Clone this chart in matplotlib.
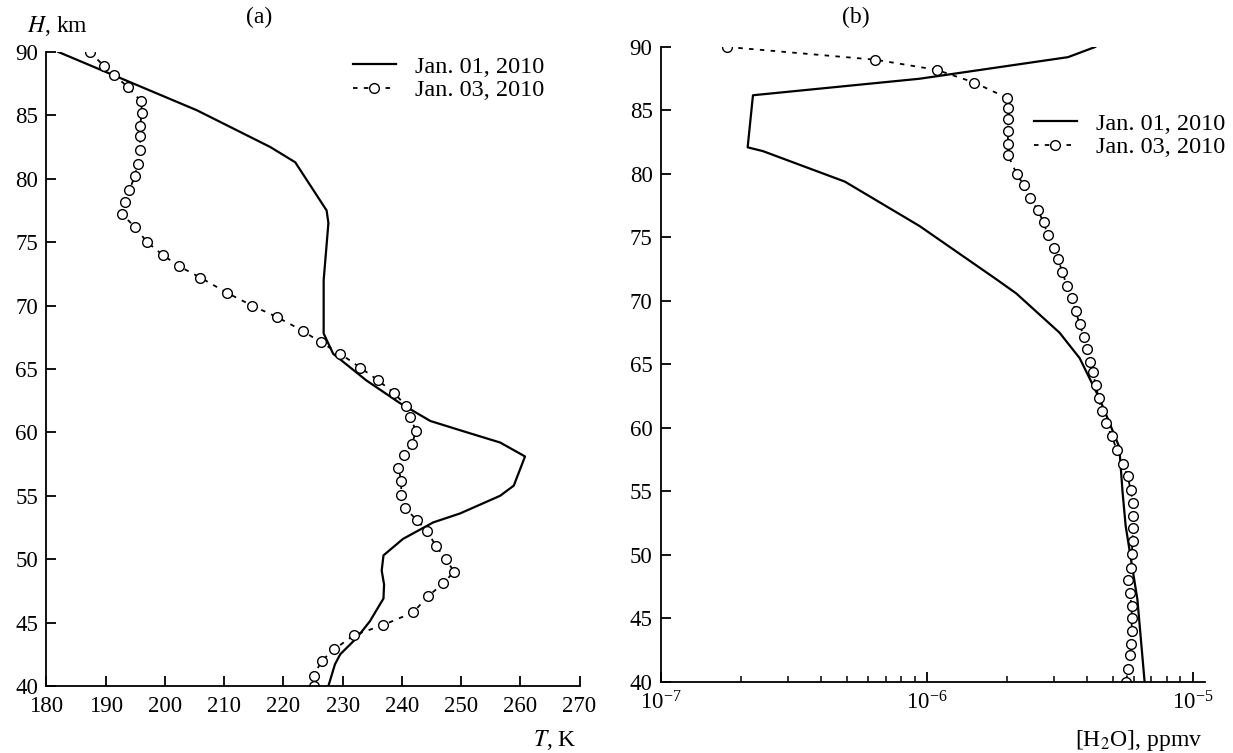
import numpy as np
import matplotlib.pyplot as plt
from matplotlib.ticker import LogLocator, NullFormatter, FixedLocator

plt.rcParams['font.family'] = ['Liberation Serif', 'DejaVu Serif']
plt.rcParams['mathtext.fontset'] = 'stix'

# ---- (a) temperature profiles ----
t1_T = [182.0, 205.4, 217.8, 222.0, 227.3, 227.6, 226.8, 226.8, 228.4, 234.0, 239.7,
        244.8, 251.0, 256.6, 260.8, 258.9, 256.6, 249.8, 245.3, 240.2, 236.9, 236.6,
        237.0, 236.9, 234.6, 232.4, 229.6, 228.7, 227.6]
t1_H = [90.0, 85.4, 82.5, 81.3, 77.5, 76.5, 72.0, 67.8, 66.2, 64.1, 62.3,
        60.9, 60.0, 59.2, 58.1, 55.8, 55.0, 53.6, 52.9, 51.6, 50.3, 49.1,
        48.0, 46.9, 45.1, 43.8, 42.5, 41.7, 40.0]

t3_T = [187.3, 189.7, 191.4, 193.8, 196.0, 196.1, 195.8, 195.8, 195.8, 195.4, 194.9,
        194.0, 193.3, 192.8, 194.9, 197.0, 199.6, 202.4, 206.0, 210.5, 214.7, 218.9,
        223.3, 226.3, 229.6, 233.0, 236.0, 238.7, 240.7, 241.4, 242.4, 241.7, 240.4,
        239.4, 239.9, 239.9, 240.6, 242.5, 244.3, 245.8, 247.5, 248.8, 247.0, 244.5,
        241.9, 236.8, 231.9, 228.6, 226.5, 225.1, 225.1]
t3_H = [90.0, 88.9, 88.2, 87.2, 86.1, 85.2, 84.2, 83.4, 82.3, 81.2, 80.2,
        79.1, 78.2, 77.2, 76.2, 75.0, 74.0, 73.1, 72.2, 71.0, 70.0, 69.1,
        68.0, 67.1, 66.2, 65.1, 64.1, 63.1, 62.1, 61.2, 60.1, 59.1, 58.2,
        57.2, 56.2, 55.1, 54.0, 53.1, 52.2, 51.0, 50.0, 49.0, 48.1, 47.1,
        45.8, 44.8, 44.0, 42.9, 42.0, 40.8, 40.0]

# ---- (b) water vapour profiles ----
w1_q = [4.3e-6, 3.4e-6, 9.4e-7, 2.22e-7, 2.12e-7, 2.42e-7, 4.92e-7, 9.4e-7, 1.83e-6,
        2.17e-6, 3.16e-6, 3.76e-6, 4.47e-6, 5.3e-6, 5.45e-6, 5.6e-6, 6.2e-6, 6.6e-6]
w1_H = [90.0, 89.2, 87.5, 86.2, 82.1, 81.8, 79.4, 75.9, 71.7,
        70.6, 67.5, 65.5, 62.3, 58.5, 55.0, 52.3, 46.5, 40.0]

w3_q = [1.78e-7, 6.4e-7, 1.09e-6, 1.51e-6, 2.0e-6, 2.02e-6, 2.02e-6, 2.02e-6, 2.02e-6,
        2.02e-6, 2.18e-6, 2.32e-6, 2.44e-6, 2.61e-6, 2.75e-6, 2.85e-6, 3.0e-6, 3.11e-6,
        3.24e-6, 3.36e-6, 3.51e-6, 3.63e-6, 3.76e-6, 3.89e-6, 4.0e-6, 4.1e-6, 4.21e-6,
        4.32e-6, 4.43e-6, 4.55e-6, 4.71e-6, 4.96e-6, 5.18e-6, 5.45e-6, 5.7e-6, 5.85e-6,
        5.95e-6, 5.95e-6, 5.95e-6, 5.95e-6, 5.9e-6, 5.85e-6, 5.74e-6, 5.8e-6, 5.9e-6,
        5.9e-6, 5.9e-6, 5.85e-6, 5.8e-6, 5.74e-6, 5.6e-6]
w3_H = [90.0, 89.0, 88.2, 87.2, 86.0, 85.2, 84.3, 83.4, 82.4,
        81.5, 80.0, 79.1, 78.1, 77.2, 76.2, 75.2, 74.2, 73.3,
        72.3, 71.2, 70.2, 69.2, 68.2, 67.2, 66.2, 65.2, 64.4,
        63.4, 62.4, 61.3, 60.4, 59.4, 58.3, 57.2, 56.2, 55.1,
        54.1, 53.1, 52.1, 51.1, 50.1, 49.0, 48.0, 47.0, 46.0,
        45.0, 44.0, 43.0, 42.1, 41.0, 40.0]

label1 = 'Jan. 01, 2010'
label3 = 'Jan. 03, 2010'

fig = plt.figure(figsize=(12.33, 7.53), dpi=100)
ax1 = fig.add_axes([0.0377, 0.089, 0.4323, 0.842])
ax2 = fig.add_axes([0.536, 0.0943, 0.441, 0.8433])

solid_kw = dict(color='black', linewidth=1.6)
circ_kw = dict(color='black', linewidth=1.3, linestyle=(0, (2.5, 3.5)), marker='o',
               markersize=7, markerfacecolor='white', markeredgecolor='black',
               markeredgewidth=1.0)

ax1.plot(t1_T, t1_H, label=label1, **solid_kw)
ax1.plot(t3_T, t3_H, label=label3, **circ_kw)
ax2.plot(w1_q, w1_H, label=label1, **solid_kw)
ax2.plot(w3_q, w3_H, label=label3, **circ_kw)

for ax in (ax1, ax2):
    ax.set_ylim(40, 90)
    ax.set_yticks(np.arange(40, 91, 5))
    ax.spines['top'].set_visible(False)
    ax.spines['right'].set_visible(False)
    ax.spines['left'].set_linewidth(1.3)
    ax.spines['bottom'].set_linewidth(1.3)
    ax.tick_params(direction='in', length=7, width=1.3, labelsize=16.5, pad=6)
    ax.tick_params(which='minor', direction='in', length=4.5, width=1.1)
    ax.tick_params(axis='x', pad=7)

ax1.set_xlim(180, 270)
ax1.set_xticks(np.arange(180, 271, 10))

ax2.set_xscale('log')
ax2.set_xlim(1e-7, 1.11e-5)
ax2.xaxis.set_major_locator(FixedLocator([1e-7, 1e-6, 1e-5]))
ax2.xaxis.set_minor_locator(LogLocator(base=10, subs=np.arange(2, 10), numticks=20))
ax2.xaxis.set_minor_formatter(NullFormatter())

fig.text(0.210, 0.977, '(a)', fontsize=17, ha='center', va='center')
fig.text(0.694, 0.977, '(b)', fontsize=17, ha='center', va='center')
fig.text(0.022, 0.966, '$H$, km', fontsize=17, ha='left', va='center')
fig.text(0.468, 0.017, '$T$, K', fontsize=17, ha='right', va='center')
fig.text(0.975, 0.017, r'[H$_2$O], ppmv', fontsize=17, ha='right', va='center')

leg_kw = dict(frameon=False, fontsize=17.5, handlelength=1.75, handletextpad=0.8,
              borderpad=0, borderaxespad=0, labelspacing=0.05)
ax1.legend(loc='center left', bbox_to_anchor=(0.2863, 0.8958),
           bbox_transform=fig.transFigure, **leg_kw)
ax2.legend(loc='center left', bbox_to_anchor=(0.8386, 0.82),
           bbox_transform=fig.transFigure, **leg_kw)

fig.savefig('out.png', dpi=100)
